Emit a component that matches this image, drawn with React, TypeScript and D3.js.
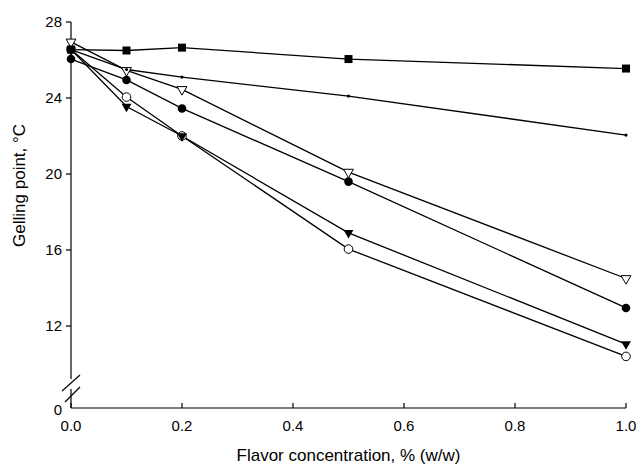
import { useEffect, useRef } from "react";
import * as d3 from "d3";

// flavor concentration, % (w/w)
const conc = [0, 0.1, 0.2, 0.5, 1.0];

// gelling point (°C) for each flavor
const filledSquare = [26.55, 26.5, 26.65, 26.05, 25.55];
const smallDot = [26.55, 25.5, 25.1, 24.1, 22.05];
const openTriangle = [26.95, 25.45, 24.45, 20.1, 14.5];
const filledCircle = [26.05, 24.95, 23.45, 19.6, 12.95];
const filledTriangle = [26.55, 23.55, 22.0, 16.9, 11.05];
const openCircle = [26.55, 24.05, 22.0, 16.05, 10.4];

const xTicks = [0, 0.2, 0.4, 0.6, 0.8, 1.0];
const yTicks = [12, 16, 20, 24, 28];

type Marker = "square" | "dot" | "triDownOpen" | "circle" | "triDown" | "circleOpen";
// open markers first so the filled ones sit on top where they overlap
const series: { values: number[]; marker: Marker }[] = [
  { values: openCircle, marker: "circleOpen" },
  { values: openTriangle, marker: "triDownOpen" },
  { values: filledSquare, marker: "square" },
  { values: smallDot, marker: "dot" },
  { values: filledCircle, marker: "circle" },
  { values: filledTriangle, marker: "triDown" },
];

export default function App() {
  const svgRef = useRef<SVGSVGElement>(null);

  useEffect(() => {
    if (!svgRef.current) return;
    const W = 638, H = 470;
    const svg = d3.select(svgRef.current);
    svg.selectAll("*").remove();
    svg.attr("viewBox", `0 0 ${W} ${H}`);

    const x = d3.scaleLinear().domain([0, 1]).range([71, 626]);
    const y = d3.scaleLinear().domain([12, 28]).range([326, 22]);
    const baseY = 408; // axis line drawn at "0" after the break
    const left = x(0);
    const font = "'Liberation Sans', Arial, sans-serif";

    const axes = svg.append("g").attr("stroke", "#000").attr("stroke-width", 1.2).attr("fill", "none");
    // x axis
    axes.append("line").attr("x1", left).attr("x2", x(1)).attr("y1", baseY).attr("y2", baseY);
    axes.selectAll("line.xt").data(xTicks).join("line").attr("class", "xt")
      .attr("x1", (d) => x(d)).attr("x2", (d) => x(d))
      .attr("y1", baseY).attr("y2", baseY - 5);
    // y axis with break
    axes.append("line").attr("x1", left).attr("x2", left).attr("y1", y(28)).attr("y2", 379);
    axes.append("line").attr("x1", left).attr("x2", left).attr("y1", 389).attr("y2", baseY);
    axes.append("line").attr("x1", left - 9).attr("x2", left + 9).attr("y1", 391).attr("y2", 375);
    axes.append("line").attr("x1", left - 6).attr("x2", left + 9).attr("y1", 402).attr("y2", 387);
    axes.selectAll("line.yt").data(yTicks).join("line").attr("class", "yt")
      .attr("x1", left - 5).attr("x2", left)
      .attr("y1", (d) => y(d)).attr("y2", (d) => y(d));

    const labels = svg.append("g").attr("font-family", font).attr("font-size", 15).attr("fill", "#000");
    labels.selectAll("text.xl").data(xTicks).join("text").attr("class", "xl")
      .attr("x", (d) => x(d)).attr("y", 431).attr("text-anchor", "middle")
      .text((d) => d.toFixed(1));
    labels.selectAll("text.yl").data(yTicks).join("text").attr("class", "yl")
      .attr("x", left - 9).attr("y", (d) => y(d)).attr("dy", "0.35em").attr("text-anchor", "end")
      .text((d) => String(d));
    labels.append("text").attr("x", left - 9).attr("y", baseY + 2).attr("dy", "0.35em")
      .attr("text-anchor", "end").text("0");

    svg.append("text").attr("font-family", font).attr("font-size", 17)
      .attr("x", (x(0) + x(1)) / 2).attr("y", 461).attr("text-anchor", "middle")
      .text("Flavor concentration, % (w/w)");
    svg.append("text").attr("font-family", font).attr("font-size", 17)
      .attr("transform", `translate(25,${y(19.4)}) rotate(-90)`).attr("text-anchor", "middle")
      .text("Gelling point, °C");

    const line = d3.line<number>().x((_, i) => x(conc[i])).y((d) => y(d));
    const plot = svg.append("g");
    series.forEach((s) => {
      plot.append("path").attr("d", line(s.values)).attr("fill", "none")
        .attr("stroke", "#000").attr("stroke-width", 1.3);
    });

    const tri = d3.symbol(d3.symbolTriangle, 42)();
    series.forEach((s) => {
      const g = plot.append("g");
      const pts = g.selectAll("g").data(s.values).join("g")
        .attr("transform", (d, i) => `translate(${x(conc[i])},${y(d)})`);
      switch (s.marker) {
        case "square":
          pts.append("rect").attr("x", -4).attr("y", -4).attr("width", 8).attr("height", 8).attr("fill", "#000");
          break;
        case "dot":
          pts.append("circle").attr("r", 1.6).attr("fill", "#000");
          break;
        case "circle":
          pts.append("circle").attr("r", 4.3).attr("fill", "#000");
          break;
        case "circleOpen":
          pts.append("circle").attr("r", 4.3).attr("fill", "#fff").attr("stroke", "#000").attr("stroke-width", 1);
          break;
        case "triDown":
          pts.append("path").attr("d", tri).attr("transform", "rotate(180)").attr("fill", "#000");
          break;
        case "triDownOpen":
          pts.append("path").attr("d", tri).attr("transform", "rotate(180)")
            .attr("fill", "#fff").attr("stroke", "#000").attr("stroke-width", 1);
          break;
      }
    });
  }, []);

  return (
    <svg
      ref={svgRef}
      width={638}
      height={470}
      style={{ position: "absolute", left: 0, top: 0, background: "#fff" }}
    />
  );
}
